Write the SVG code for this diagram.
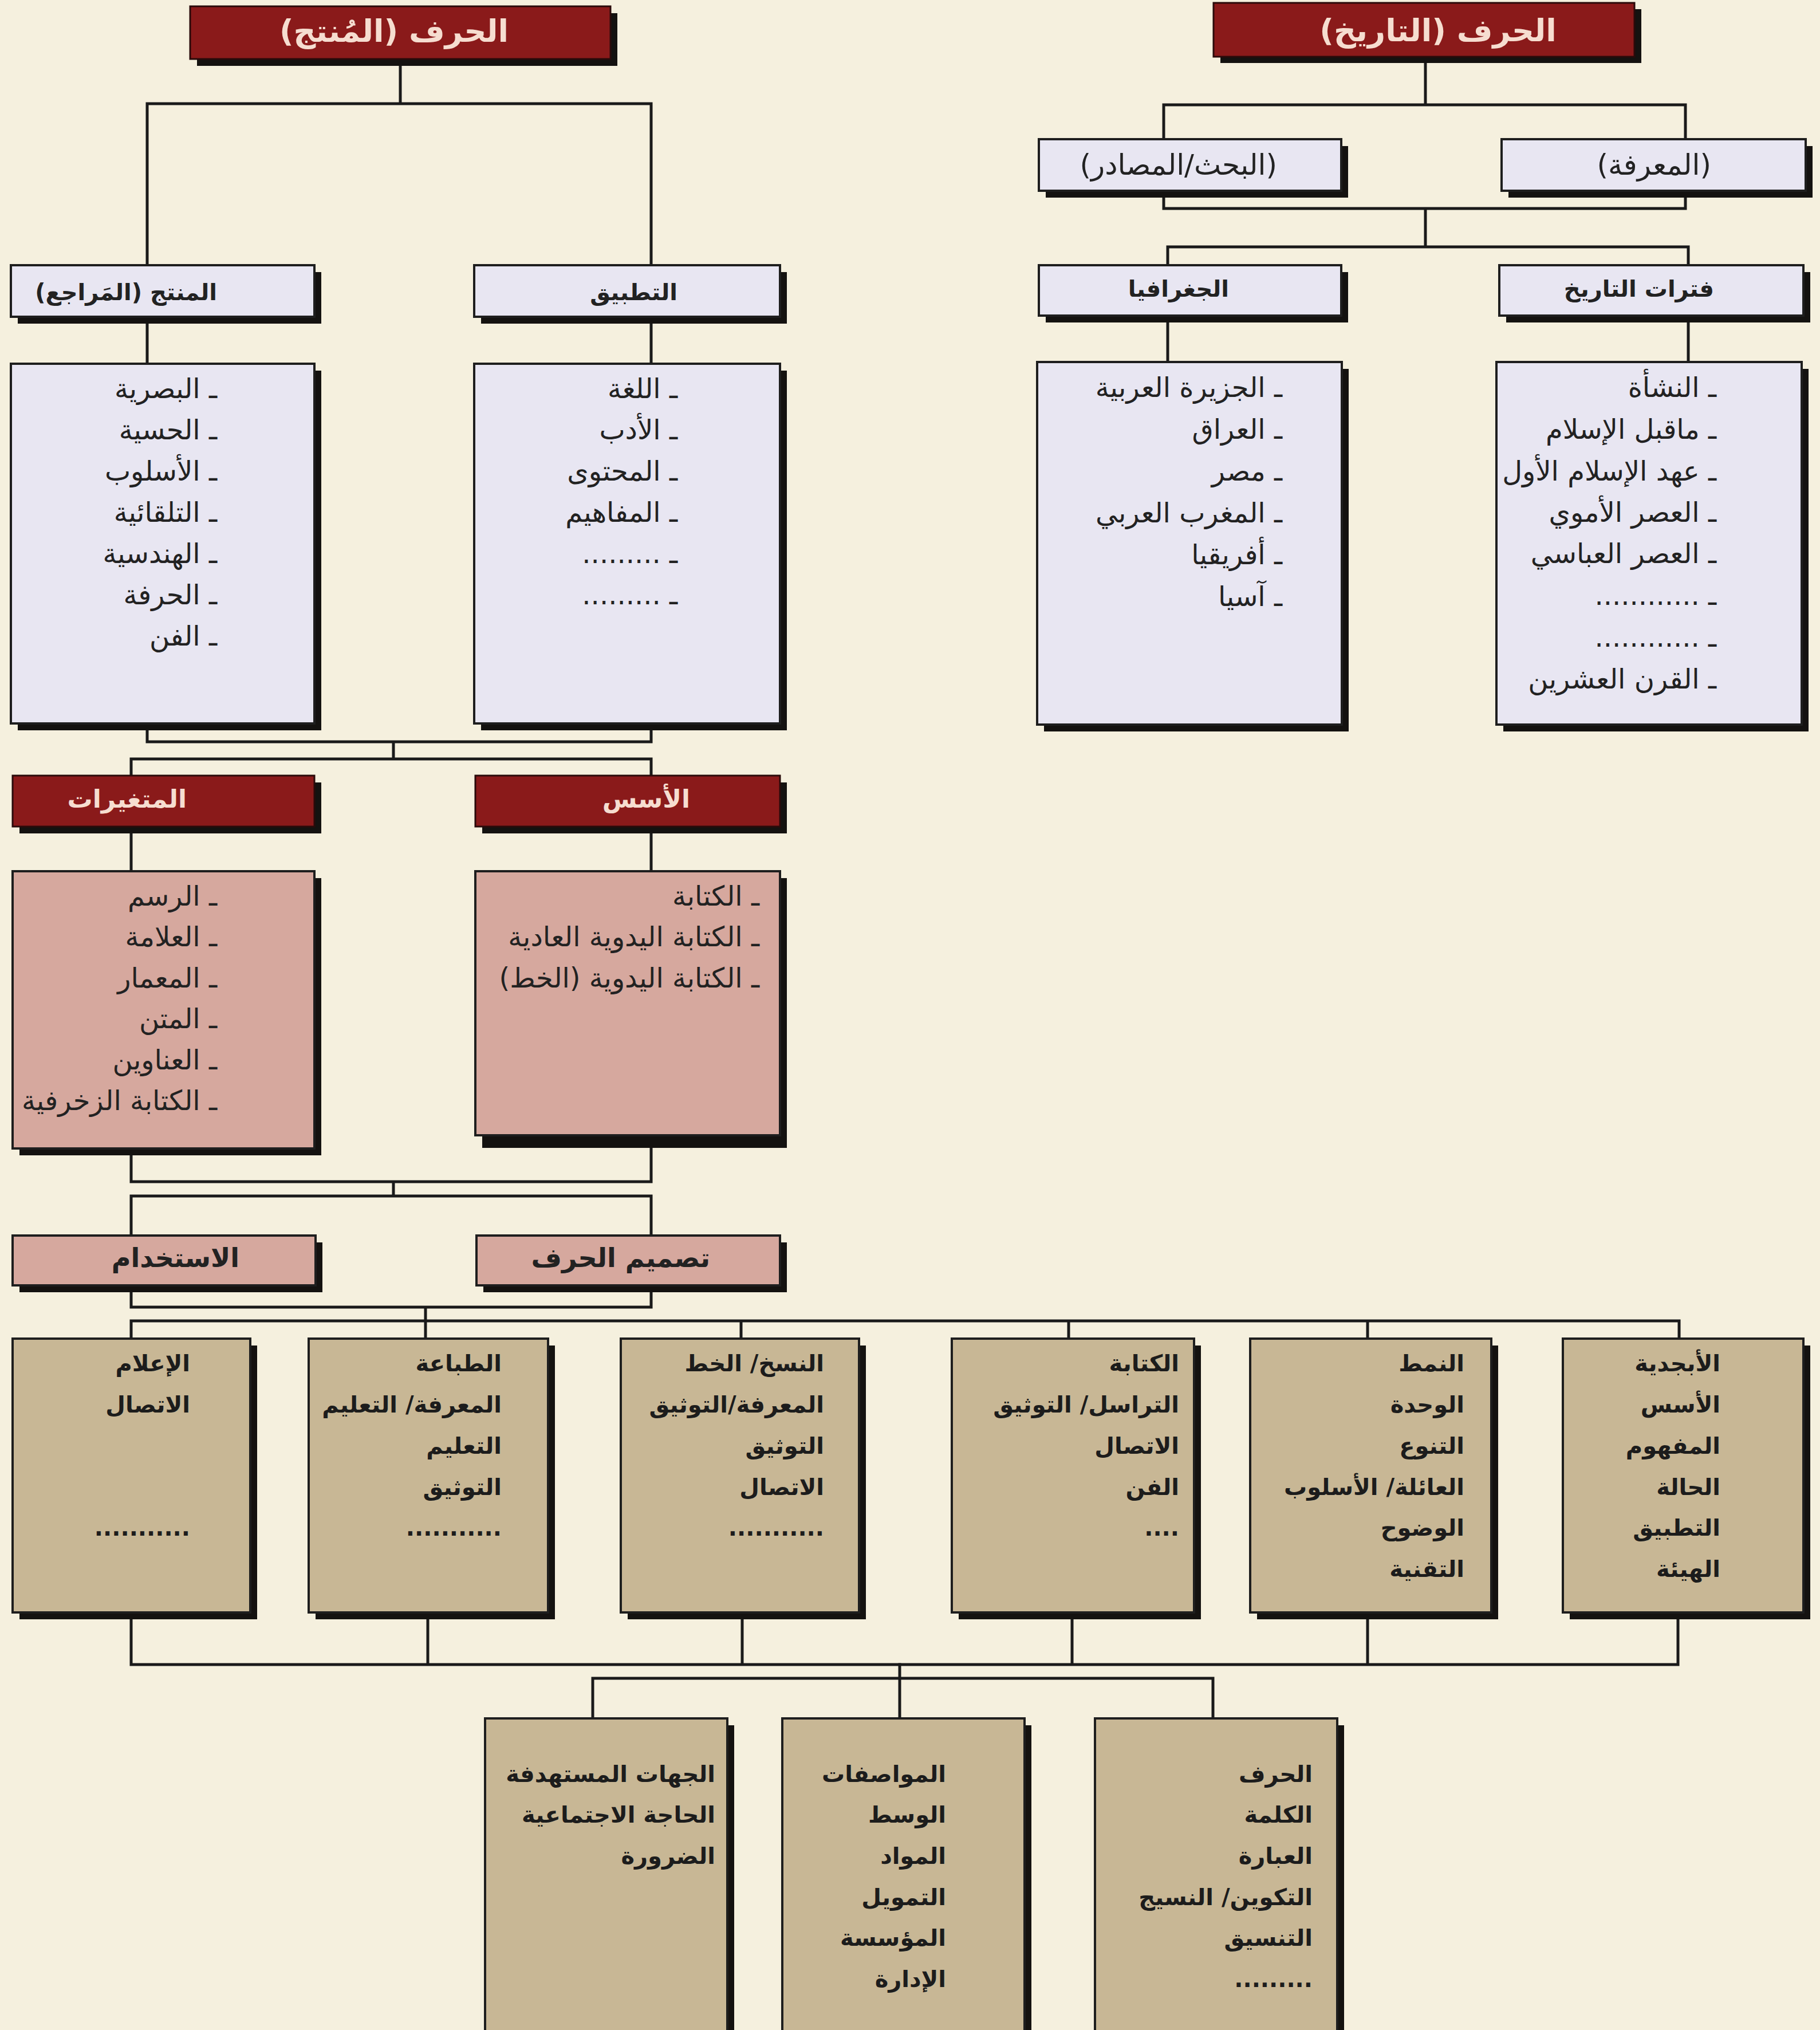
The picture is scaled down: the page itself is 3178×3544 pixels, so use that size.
<svg xmlns="http://www.w3.org/2000/svg" width="3178" height="3544" viewBox="0 0 3178 3544">
<style>
.bg{fill:#f5f0de}
.sh{fill:#141210}
.red{fill:#8a1a1a;stroke:#2a0a0a;stroke-width:3}
.lav{fill:#e8e6f2;stroke:#1e1e1e;stroke-width:4}
.pink{fill:#d6a89e;stroke:#1e1e1e;stroke-width:4}
.tan{fill:#c8b795;stroke:#1e1e1e;stroke-width:4}
.ln{fill:none;stroke:#1a1a1a;stroke-width:5;stroke-linejoin:miter;stroke-linecap:square}
text{font-family:"DejaVu Sans",sans-serif;direction:rtl;text-anchor:start;fill:#222}
.rt{font-size:54px;font-weight:bold;fill:#f6ddd0}
.rm{font-size:44px;font-weight:bold;fill:#f6ddd0}
.rtc{text-anchor:middle}
.ht{font-size:40px;font-weight:bold}
.ph{font-size:46px;font-weight:bold}
.bh{font-size:50px}
.li{font-size:48px}
.tt{font-size:40px;font-weight:bold;fill:#1c1c1c}
</style>
<defs>
<clipPath id="clipMut"><rect x="22" y="1521" width="527" height="484"/></clipPath>
</defs>
<rect class="bg" x="0" y="0" width="3178" height="3544"/>

<g id="connectors">
<path class="ln" d="M699,103V181M257,181H1137M257,181V463M1137,181V463"/>
<path class="ln" d="M257,553V635M1137,553V635"/>
<path class="ln" d="M257,1263V1295H1137V1263M687,1295V1325M229,1354V1325H1137V1354"/>
<path class="ln" d="M229,1443V1521M1137,1443V1521"/>
<path class="ln" d="M229,2005V2063H1137V1982M687,2063V2088M229,2157V2088H1137V2157"/>
<path class="ln" d="M229,2244V2282H1137V2244M743,2282V2337M229,2337V2306H2932V2337M1294,2306V2337M1866,2306V2337M2388,2306V2337"/>
<path class="ln" d="M229,2815V2906H2930V2815M747,2815V2906M1296,2815V2906M1872,2815V2906M2388,2815V2906"/>
<path class="ln" d="M1571,2906V3000M1035,3000V2930H2118V3000"/>
<path class="ln" d="M2489,100V183M2032,243V183H2943V243"/>
<path class="ln" d="M2032,333V364H2943V333M2489,364V431M2039,463V431H2948V463"/>
<path class="ln" d="M2039,551V632M2948,551V632"/>
</g>

<g id="n-hurf-muntaj">
<rect class="sh" x="344" y="23" width="734" height="92"/>
<rect class="red" x="332" y="11" width="734" height="92"/>
<text class="rt rtc" x="688" y="73">الحرف (المُنتج)</text>
</g>
<g id="n-hurf-tarikh">
<rect class="sh" x="2131" y="16" width="735" height="94"/>
<rect class="red" x="2119" y="5" width="735" height="94"/>
<text class="rt rtc" x="2511" y="72">الحرف (التاريخ)</text>
</g>

<g id="n-bahth">
<rect class="sh" x="1826" y="255" width="528" height="90"/>
<rect class="lav" x="1814" y="243" width="528" height="90"/>
<text class="bh" x="2230" y="305">(البحث/المصادر)</text>
</g>
<g id="n-maarifa">
<rect class="sh" x="2634" y="255" width="531" height="90"/>
<rect class="lav" x="2622" y="243" width="531" height="90"/>
<text class="bh" x="2988" y="305">(المعرفة)</text>
</g>

<g id="n-jughrafia">
<rect class="sh" x="1826" y="475" width="528" height="88"/>
<rect class="lav" x="1814" y="463" width="528" height="88"/>
<text class="ht" x="2146" y="518">الجغرافيا</text>
</g>
<g id="n-fatarat">
<rect class="sh" x="2630" y="475" width="531" height="88"/>
<rect class="lav" x="2618" y="463" width="531" height="88"/>
<text class="ht" x="2993" y="518">فترات التاريخ</text>
</g>

<g id="n-geo-list">
<rect class="sh" x="1823" y="644" width="532" height="633"/>
<rect class="lav" x="1811" y="632" width="532" height="633"/>
<text class="li" x="2239" y="693">ـ الجزيرة العربية</text>
<text class="li" x="2239" y="766">ـ العراق</text>
<text class="li" x="2239" y="839">ـ مصر</text>
<text class="li" x="2239" y="912">ـ المغرب العربي</text>
<text class="li" x="2239" y="985">ـ أفريقيا</text>
<text class="li" x="2239" y="1058">ـ آسيا</text>
</g>
<g id="n-periods-list">
<rect class="sh" x="2625" y="644" width="533" height="633"/>
<rect class="lav" x="2613" y="632" width="533" height="633"/>
<text class="li" x="2997" y="693">ـ النشأة</text>
<text class="li" x="2997" y="766">ـ ماقبل الإسلام</text>
<text class="li" x="2997" y="839">ـ عهد الإسلام الأول</text>
<text class="li" x="2997" y="911">ـ العصر الأموي</text>
<text class="li" x="2997" y="983">ـ العصر العباسي</text>
<text class="li" x="2997" y="1056">ـ ............</text>
<text class="li" x="2997" y="1129">ـ ............</text>
<text class="li" x="2997" y="1202">ـ القرن العشرين</text>
</g>

<g id="n-muntaj-marajea">
<rect class="sh" x="31" y="475" width="530" height="90"/>
<rect class="lav" x="19" y="463" width="530" height="90"/>
<text class="ht" x="379" y="524">المنتج (المَراجع)</text>
</g>
<g id="n-tatbiq">
<rect class="sh" x="840" y="475" width="534" height="90"/>
<rect class="lav" x="828" y="463" width="534" height="90"/>
<text class="ht" x="1183" y="524">التطبيق</text>
</g>

<g id="n-muntaj-list">
<rect class="sh" x="31" y="647" width="530" height="628"/>
<rect class="lav" x="19" y="635" width="530" height="628"/>
<text class="li" x="379" y="695">ـ البصرية</text>
<text class="li" x="379" y="767">ـ الحسية</text>
<text class="li" x="379" y="839">ـ الأسلوب</text>
<text class="li" x="379" y="911">ـ التلقائية</text>
<text class="li" x="379" y="983">ـ الهندسية</text>
<text class="li" x="379" y="1055">ـ الحرفة</text>
<text class="li" x="379" y="1127">ـ الفن</text>
</g>
<g id="n-tatbiq-list">
<rect class="sh" x="840" y="647" width="534" height="628"/>
<rect class="lav" x="828" y="635" width="534" height="628"/>
<text class="li" x="1183" y="695">ـ اللغة</text>
<text class="li" x="1183" y="767">ـ الأدب</text>
<text class="li" x="1183" y="839">ـ المحتوى</text>
<text class="li" x="1183" y="911">ـ المفاهيم</text>
<text class="li" x="1183" y="983">ـ .........</text>
<text class="li" x="1183" y="1055">ـ .........</text>
</g>

<g id="n-mutaghayyirat">
<rect class="sh" x="34" y="1366" width="527" height="89"/>
<rect class="red" x="22" y="1354" width="527" height="89"/>
<text class="rm" x="326" y="1410">المتغيرات</text>
</g>
<g id="n-usus">
<rect class="sh" x="842" y="1366" width="532" height="89"/>
<rect class="red" x="830" y="1354" width="532" height="89"/>
<text class="rm" x="1205" y="1410">الأسس</text>
</g>

<g id="n-mutaghayyirat-list">
<rect class="sh" x="34" y="1533" width="527" height="484"/>
<rect class="pink" x="22" y="1521" width="527" height="484"/>
<g clip-path="url(#clipMut)">
<text class="li" x="379" y="1581">ـ الرسم</text>
<text class="li" x="379" y="1652">ـ العلامة</text>
<text class="li" x="379" y="1724">ـ المعمار</text>
<text class="li" x="379" y="1795">ـ المتن</text>
<text class="li" x="379" y="1867">ـ العناوين</text>
<text class="li" x="379" y="1938">ـ الكتابة الزخرفية</text>
</g>
</g>
<g id="n-usus-list">
<rect class="sh" x="842" y="1533" width="532" height="471"/>
<rect class="pink" x="830" y="1521" width="532" height="461"/>
<text class="li" x="1326" y="1581">ـ الكتابة</text>
<text class="li" x="1326" y="1652">ـ الكتابة اليدوية العادية</text>
<text class="li" x="1326" y="1724">ـ الكتابة اليدوية (الخط)</text>
</g>

<g id="n-istikhdam">
<rect class="sh" x="34" y="2169" width="529" height="87"/>
<rect class="pink" x="22" y="2157" width="529" height="87"/>
<text class="ph" x="418" y="2212">الاستخدام</text>
</g>
<g id="n-tasmim">
<rect class="sh" x="844" y="2169" width="530" height="87"/>
<rect class="pink" x="832" y="2157" width="530" height="87"/>
<text class="ph" x="1240" y="2212">تصميم الحرف</text>
</g>

<g id="n-ilam">
<rect class="sh" x="34" y="2349" width="415" height="478"/>
<rect class="tan" x="22" y="2337" width="415" height="478"/>
<text class="tt" x="332" y="2394">الإعلام</text>
<text class="tt" x="332" y="2466">الاتصال</text>
<text class="tt" x="332" y="2681">...........</text>
</g>
<g id="n-tibaa">
<rect class="sh" x="551" y="2349" width="418" height="478"/>
<rect class="tan" x="539" y="2337" width="418" height="478"/>
<text class="tt" x="876" y="2394">الطباعة</text>
<text class="tt" x="876" y="2466">المعرفة/ التعليم</text>
<text class="tt" x="876" y="2538">التعليم</text>
<text class="tt" x="876" y="2610">التوثيق</text>
<text class="tt" x="876" y="2681">...........</text>
</g>
<g id="n-naskh">
<rect class="sh" x="1096" y="2349" width="416" height="478"/>
<rect class="tan" x="1084" y="2337" width="416" height="478"/>
<text class="tt" x="1439" y="2394">النسخ/ الخط</text>
<text class="tt" x="1439" y="2466">المعرفة/التوثيق</text>
<text class="tt" x="1439" y="2538">التوثيق</text>
<text class="tt" x="1439" y="2610">الاتصال</text>
<text class="tt" x="1439" y="2681">...........</text>
</g>
<g id="n-kitaba">
<rect class="sh" x="1674" y="2349" width="423" height="478"/>
<rect class="tan" x="1662" y="2337" width="423" height="478"/>
<text class="tt" x="2059" y="2394">الكتابة</text>
<text class="tt" x="2059" y="2466">التراسل/ التوثيق</text>
<text class="tt" x="2059" y="2538">الاتصال</text>
<text class="tt" x="2059" y="2610">الفن</text>
<text class="tt" x="2059" y="2681">....</text>
</g>
<g id="n-namat">
<rect class="sh" x="2195" y="2349" width="421" height="478"/>
<rect class="tan" x="2183" y="2337" width="421" height="478"/>
<text class="tt" x="2557" y="2394">النمط</text>
<text class="tt" x="2557" y="2466">الوحدة</text>
<text class="tt" x="2557" y="2538">التنوع</text>
<text class="tt" x="2557" y="2610">العائلة/ الأسلوب</text>
<text class="tt" x="2557" y="2681">الوضوح</text>
<text class="tt" x="2557" y="2753">التقنية</text>
</g>
<g id="n-abjadiya">
<rect class="sh" x="2741" y="2349" width="420" height="478"/>
<rect class="tan" x="2729" y="2337" width="420" height="478"/>
<text class="tt" x="3004" y="2394">الأبجدية</text>
<text class="tt" x="3004" y="2466">الأسس</text>
<text class="tt" x="3004" y="2538">المفهوم</text>
<text class="tt" x="3004" y="2610">الحالة</text>
<text class="tt" x="3004" y="2681">التطبيق</text>
<text class="tt" x="3004" y="2753">الهيئة</text>
</g>

<g id="n-jihat">
<rect class="sh" x="859" y="3012" width="423" height="560"/>
<rect class="tan" x="847" y="3000" width="423" height="560"/>
<text class="tt" x="1249" y="3111">الجهات المستهدفة</text>
<text class="tt" x="1249" y="3182">الحاجة الاجتماعية</text>
<text class="tt" x="1249" y="3254">الضرورة</text>
</g>
<g id="n-muwasafat">
<rect class="sh" x="1378" y="3012" width="423" height="560"/>
<rect class="tan" x="1366" y="3000" width="423" height="560"/>
<text class="tt" x="1652" y="3111">المواصفات</text>
<text class="tt" x="1652" y="3182">الوسط</text>
<text class="tt" x="1652" y="3254">المواد</text>
<text class="tt" x="1652" y="3326">التمويل</text>
<text class="tt" x="1652" y="3397">المؤسسة</text>
<text class="tt" x="1652" y="3469">الإدارة</text>
</g>
<g id="n-harf">
<rect class="sh" x="1924" y="3012" width="423" height="560"/>
<rect class="tan" x="1912" y="3000" width="423" height="560"/>
<text class="tt" x="2292" y="3111">الحرف</text>
<text class="tt" x="2292" y="3182">الكلمة</text>
<text class="tt" x="2292" y="3254">العبارة</text>
<text class="tt" x="2292" y="3326">التكوين/ النسيج</text>
<text class="tt" x="2292" y="3397">التنسيق</text>
<text class="tt" x="2292" y="3469">.........</text>
</g>
</svg>
